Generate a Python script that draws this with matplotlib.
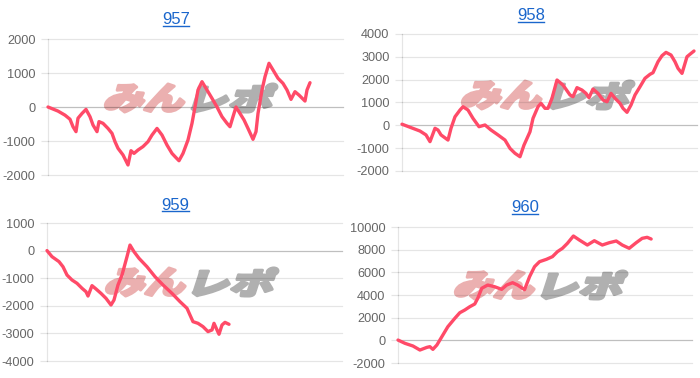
import matplotlib
matplotlib.use("Agg")
import matplotlib.pyplot as plt
from matplotlib.textpath import TextPath
from matplotlib.patches import PathPatch
from matplotlib.font_manager import FontProperties
from matplotlib.transforms import Affine2D
from matplotlib.lines import Line2D

plt.rcParams['font.family'] = ['Liberation Sans', 'DejaVu Sans']

# ---------------- data ----------------
titles = ["957", "958", "959", "960"]

x957 = [0, 10, 17, 22, 25, 28, 30, 34, 38, 42, 45, 49, 51, 55, 60, 64, 67, 70, 75, 80, 83, 86,
        90, 95, 100, 104, 109, 114, 119, 124, 128, 131, 135, 140, 144, 147, 150, 154, 159, 164,
        169, 174, 179, 182, 185, 188, 192, 196, 200, 205, 208, 210, 214, 217, 221, 225, 230,
        235, 239, 243, 247, 251, 257, 259, 262]
y957 = [0, -120, -240, -360, -580, -725, -330, -190, -70, -285, -530, -725, -430, -480, -630,
        -775, -1020, -1215, -1410, -1705, -1285, -1365, -1265, -1165, -1020, -825, -630, -825,
        -1120, -1365, -1490, -1580, -1365, -970, -480, 0, 500, 745, 500, 255, 0, -285, -480,
        -580, -285, 0, -190, -380, -630, -950, -725, -190, 500, 890, 1285, 1090, 845, 695, 500,
        225, 450, 350, 175, 500, 715]

x958 = [0, 9, 18, 24, 28, 33, 36, 39, 46, 49, 53, 58, 61, 66, 71, 77, 83, 89, 96, 103, 108,
        113, 118, 122, 128, 131, 136, 139, 143, 146, 150, 155, 161, 168, 171, 175, 180, 184,
        187, 191, 196, 201, 205, 209, 213, 218, 221, 225, 229, 233, 238, 243, 248, 251, 256,
        260, 264, 269, 273, 276, 280, 285, 289, 292]
y958 = [50, -100, -250, -420, -715, -130, -205, -420, -645, -130, 375, 670, 815, 670, 305, -60,
        15, -205, -420, -645, -1010, -1225, -1375, -865, -280, 305, 815, 965, 745, 745, 1185,
        1985, 1765, 1330, 1255, 1650, 1545, 1400, 1210, 1590, 1400, 1110, 1035, 1400, 1185,
        965, 745, 570, 890, 1330, 1690, 2060, 2235, 2305, 2785, 3050, 3195, 3080, 2785, 2495,
        2275, 3005, 3150, 3255]

x959 = [0, 5, 12, 16, 20, 25, 30, 35, 39, 41, 45, 49, 54, 59, 64, 67, 71, 75, 80, 83, 87, 92,
        100, 108, 116, 125, 133, 140, 143, 146, 151, 156, 161, 165, 167, 170, 172, 175, 178, 182]
y959 = [0, -220, -400, -585, -885, -1065, -1185, -1365, -1490, -1645, -1270, -1390, -1550,
        -1730, -1970, -1790, -1245, -885, -220, 200, -40, -280, -585, -945, -1245, -1550,
        -1850, -2090, -2335, -2575, -2635, -2755, -2935, -2875, -2635, -2875, -3030, -2695,
        -2600, -2670]

x960 = [0, 7, 15, 22, 29, 32, 35, 39, 44, 50, 57, 62, 67, 72, 77, 80, 84, 90, 97, 104, 109,
        115, 120, 127, 132, 137, 142, 149, 155, 160, 165, 170, 176, 182, 190, 197, 205, 212,
        219, 225, 232, 239, 245, 250, 254]
y960 = [25, -265, -500, -855, -620, -560, -795, -415, 320, 1200, 1940, 2435, 2675, 2965, 3205,
        3705, 4590, 4880, 4730, 4500, 4880, 5085, 4880, 4470, 5615, 6500, 6940, 7150, 7385,
        7825, 8120, 8560, 9205, 8850, 8410, 8790, 8410, 8615, 8765, 8410, 8120, 8615, 9000,
        9090, 8940]

yticks957 = [-2000, -1000, 0, 1000, 2000]
yticks958 = [-2000, -1000, 0, 1000, 2000, 3000, 4000]
yticks959 = [-4000, -3000, -2000, -1000, 0, 1000]
yticks960 = [-2000, 0, 2000, 4000, 6000, 8000, 10000]

# ---------------- style / layout ----------------
W, H = 700, 378
RED = "#ff4a68"
GRID = (0, 0, 0, 0.10)
ZERO = (0, 0, 0, 0.25)
TITLE_C = "#1a66cc"

panels = [
    # data, yticks, axes box px (x0, x1, ytop, ybottom), title pos px, watermark center px
    (x957, y957, yticks957, (48, 343, 39, 175), (176, 20), (192, 98)),
    (x958, y958, yticks958, (402, 697, 34, 171), (531, 16), (549, 95)),
    (x959, y959, yticks959, (47, 342, 223, 361), (175, 205), (193, 282)),
    (x960, y960, yticks960, (398, 692, 227, 363), (525, 208), (542, 285)),
]

fig = plt.figure(figsize=(W / 100, H / 100), dpi=100)
fig.patch.set_facecolor("white")

px_to_fig = Affine2D().scale(1 / 100.0) + fig.dpi_scale_trans
fp_wm = FontProperties(family="Noto Sans CJK JP", weight="black")


def watermark(cx, cy):
    parts = [("みん", "#ebb0b0", -84), ("レポ", "#b0b0b0", 4)]
    for txt, col, xoff in parts:
        tp = TextPath((0, 0), txt, size=1, prop=fp_wm)
        ext = tp.get_extents()
        sx = 78.0 / ext.width
        sy = 28.0 / ext.height
        tr = (Affine2D().translate(-ext.x0, -ext.y0).scale(sx, sy).skew_deg(18, 0)
              .translate(cx + xoff - 5, H - (cy + 14)))
        path = tr.transform_path(tp)
        fig.add_artist(PathPatch(path, facecolor=col, edgecolor=col, lw=2.2,
                                 joinstyle="round", transform=px_to_fig, zorder=-1))


title_texts = []
for (xs, ys, ticks, box, tpos, wpos), title in zip(panels, titles):
    x0, x1, yt, yb = box
    ax = fig.add_axes([x0 / W, (H - yb) / H, (x1 - x0) / W, (yb - yt) / H])
    ax.set_facecolor("none")
    ax.plot(xs, ys, color=RED, lw=2.4, solid_joinstyle="round", solid_capstyle="round",
            zorder=3, clip_on=False)
    ax.set_xlim(0, 295)
    ax.set_ylim(ticks[0], ticks[-1])
    ax.set_yticks(ticks)
    ax.set_yticklabels([str(t) for t in ticks])
    for t in ticks:
        ax.axhline(t, color=ZERO if t == 0 else GRID, lw=0.9, zorder=1, clip_on=False)
    for s in ["top", "right", "bottom"]:
        ax.spines[s].set_visible(False)
    ax.spines["left"].set_color(GRID)
    ax.spines["left"].set_linewidth(0.9)
    ax.tick_params(axis="y", length=5, width=0.9, color=GRID, labelsize=9.2,
                   labelcolor="#666666", pad=4)
    ax.tick_params(axis="x", bottom=False, labelbottom=False)
    watermark(*wpos)
    t = fig.text(tpos[0] / W, 1 - tpos[1] / H, title, ha="center", va="center",
                 color=TITLE_C, fontsize=12)
    title_texts.append(t)

# underline the titles
fig.canvas.draw()
r = fig.canvas.get_renderer()
inv = fig.transFigure.inverted()
for t in title_texts:
    bb = t.get_window_extent(renderer=r)
    (fx0, fy0) = inv.transform((bb.x0 + 0.5, bb.y0 + 1.5))
    (fx1, _) = inv.transform((bb.x1 - 0.5, bb.y0 + 1.5))
    fig.add_artist(Line2D([fx0, fx1], [fy0, fy0], color=TITLE_C, lw=1.0,
                          transform=fig.transFigure))

fig.savefig("out.png", dpi=100, facecolor="white")
